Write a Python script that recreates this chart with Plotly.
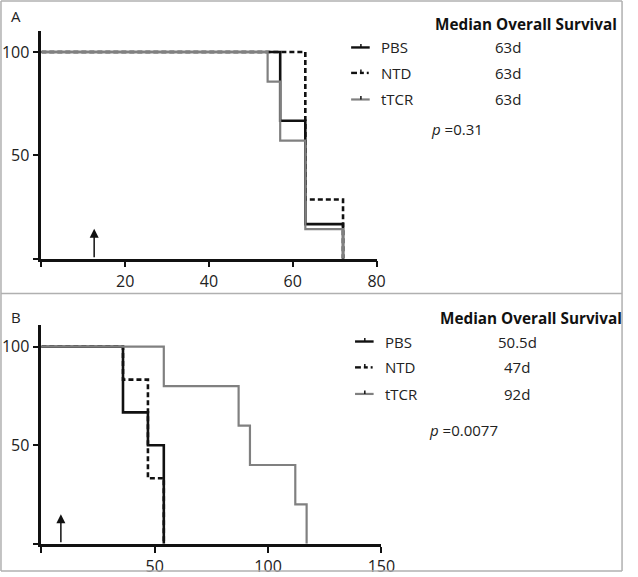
import plotly.graph_objects as go

W, H = 638, 577

# ---------------- data ----------------
# Panel A
A_PBS_t = [0, 57, 63, 72]
A_PBS_s = [100, 66.7, 16.7, 0]
A_NTD_t = [0, 63, 72]
A_NTD_s = [100, 28.6, 0]
A_TCR_t = [0, 54, 57, 63, 72]
A_TCR_s = [100, 85.7, 57.1, 14.3, 0]
A_xticks = [0, 20, 40, 60, 80]
A_xticklabels = ["", "20", "40", "60", "80"]
A_medians = ["63d", "63d", "63d"]
A_p = "0.31"
A_arrow_day = 12.6

# Panel B
B_PBS_t = [0, 36, 47, 54]
B_PBS_s = [100, 66.7, 50, 0]
B_NTD_t = [0, 36, 47, 54]
B_NTD_s = [100, 83.3, 33.3, 0]
B_TCR_t = [0, 54, 87, 92, 112, 117]
B_TCR_s = [100, 80, 60, 40, 20, 0]
B_xticks = [0, 50, 100, 150]
B_xticklabels = ["", "50", "100", "150"]
B_medians = ["50.5d", "47d", "92d"]
B_p = "0.0077"
B_arrow_day = 8.6

yticks = [0, 50, 100]
yticklabels = ["", "50", "100"]
groups = ["PBS", "NTD", "tTCR"]

FONT = "Open Sans"
BLACK = "#111111"
GRAY = "#808080"


def px(x):
    return x / W


def py(y):
    return 1 - y / H


fig = go.Figure()

styles = [
    dict(color=BLACK, width=2.6, dash="solid"),
    dict(color=BLACK, width=2.6, dash="5px,3px"),
    dict(color=GRAY, width=2.2, dash="solid"),
]

for (t, s), st in zip([(A_PBS_t, A_PBS_s), (A_NTD_t, A_NTD_s), (A_TCR_t, A_TCR_s)], styles):
    fig.add_trace(go.Scatter(x=t, y=s, mode="lines", line=dict(shape="hv", **st),
                             xaxis="x", yaxis="y", showlegend=False, hoverinfo="skip"))
for (t, s), st in zip([(B_PBS_t, B_PBS_s), (B_NTD_t, B_NTD_s), (B_TCR_t, B_TCR_s)], styles):
    fig.add_trace(go.Scatter(x=t, y=s, mode="lines", line=dict(shape="hv", **st),
                             xaxis="x2", yaxis="y2", showlegend=False, hoverinfo="skip"))

axis_common = dict(showline=True, linecolor=BLACK, linewidth=2.6, ticks="outside",
                   ticklen=6, tickwidth=2.4, tickcolor=BLACK, showgrid=False, zeroline=False,
                   tickfont=dict(family=FONT, size=16, color="#222"), fixedrange=True)

fig.update_layout(
    width=W, height=H, margin=dict(l=0, r=0, t=0, b=0), autosize=False,
    paper_bgcolor="white", plot_bgcolor="white",
    xaxis=dict(domain=[px(42.3), px(385)], range=[0, 80], anchor="y",
               tickvals=A_xticks, ticktext=A_xticklabels, **axis_common),
    yaxis=dict(domain=[py(260), py(31.5)], range=[0, 110], anchor="x",
               tickvals=yticks, ticktext=yticklabels, **axis_common),
    xaxis2=dict(domain=[px(42.3), px(390)], range=[0, 150], anchor="y2",
                tickvals=B_xticks, ticktext=B_xticklabels, **axis_common),
    yaxis2=dict(domain=[py(546.7), py(326.7)], range=[0, 111], anchor="x2",
                tickvals=yticks, ticktext=yticklabels, **axis_common),
)

shapes = []
# panel borders
bc = "#b0b0b0"
for (x0, y0, x1, y1) in [(1, 1, 636, 1), (1, 1, 1, 574), (636, 1, 636, 574),
                         (1, 295, 636, 295), (1, 574, 636, 574)]:
    shapes.append(dict(type="line", xref="paper", yref="paper", x0=px(x0), y0=py(y0),
                       x1=px(x1), y1=py(y1), line=dict(color=bc, width=1.5)))

annotations = []


def panel_text(letter, letter_y, hdr_x, hdr_y, leg_x, rows_y, val_x, medians, p_x, p_y, pval):
    annotations.append(dict(text=letter, x=px(9), y=py(letter_y), xref="paper", yref="paper",
                            xanchor="left", yanchor="middle", showarrow=False,
                            font=dict(family=FONT, size=15, color="#222")))
    annotations.append(dict(text="<b>Median Overall Survival</b>", x=px(hdr_x), y=py(hdr_y),
                            xref="paper", yref="paper", xanchor="left", yanchor="middle",
                            showarrow=False, font=dict(family=FONT, size=15.3, color="#111")))
    for i, (g, m, ry) in enumerate(zip(groups, medians, rows_y)):
        annotations.append(dict(text=g, x=px(leg_x + 29), y=py(ry), xref="paper", yref="paper",
                                xanchor="left", yanchor="middle", showarrow=False,
                                font=dict(family=FONT, size=15, color="#222")))
        annotations.append(dict(text=m, x=px(val_x), y=py(ry), xref="paper", yref="paper",
                                xanchor="center", yanchor="middle", showarrow=False,
                                font=dict(family=FONT, size=15, color="#222")))
        # legend line sample
        lx0, lx1 = leg_x, leg_x + 19
        if i == 1:
            segs = [(lx0, lx0 + 6), (lx0 + 9, lx0 + 13), (lx0 + 16, lx0 + 18)]
            col, wd = BLACK, 2.4
        else:
            segs = [(lx0, lx1)]
            col, wd = (BLACK, 2.4) if i == 0 else (GRAY, 2.2)
        for a, b in segs:
            shapes.append(dict(type="line", xref="paper", yref="paper", x0=px(a), x1=px(b),
                               y0=py(ry), y1=py(ry), line=dict(color=col, width=wd)))
        shapes.append(dict(type="line", xref="paper", yref="paper", x0=px(lx0 + 10), x1=px(lx0 + 10),
                           y0=py(ry), y1=py(ry - 3.5), line=dict(color=BLACK, width=1.5)))
    annotations.append(dict(text="<i>p</i> =" + pval, x=px(p_x), y=py(p_y), xref="paper",
                            yref="paper", xanchor="left", yanchor="middle", showarrow=False,
                            font=dict(family=FONT, size=15, color="#222")))


panel_text("A", 16, 443, 24, 359, [47.7, 73.3, 100], 519, A_medians, 439, 130, A_p)
panel_text("B", 319, 448, 320, 363, [343.3, 369.3, 396], 529, B_medians, 437, 432, B_p)

# treatment arrows
annotations.append(dict(x=A_arrow_day, y=14.5, ax=A_arrow_day, ay=0, xref="x", yref="y",
                        axref="x", ayref="y", showarrow=True, arrowhead=2, arrowsize=1.2,
                        arrowwidth=1.5, arrowcolor=BLACK, text=""))
annotations.append(dict(x=B_arrow_day, y=15, ax=B_arrow_day, ay=0, xref="x2", yref="y2",
                        axref="x2", ayref="y2", showarrow=True, arrowhead=2, arrowsize=1.2,
                        arrowwidth=1.5, arrowcolor=BLACK, text=""))

fig.update_layout(shapes=shapes, annotations=annotations)
post = ("document.documentElement.style.margin='0';document.documentElement.style.overflow='hidden';"
        "document.body.style.margin='0';document.body.style.padding='0';"
        "document.body.style.overflow='hidden';"
        "var gd=document.getElementById('{plot_id}');"
        "gd.style.position='fixed';gd.style.left='0px';gd.style.top='0px';"
        "gd.style.width='638px';gd.style.height='577px';")
fig.write_html("out.html", config={"displayModeBar": False, "responsive": False},
               default_width="638px", default_height="577px", post_script=post)
